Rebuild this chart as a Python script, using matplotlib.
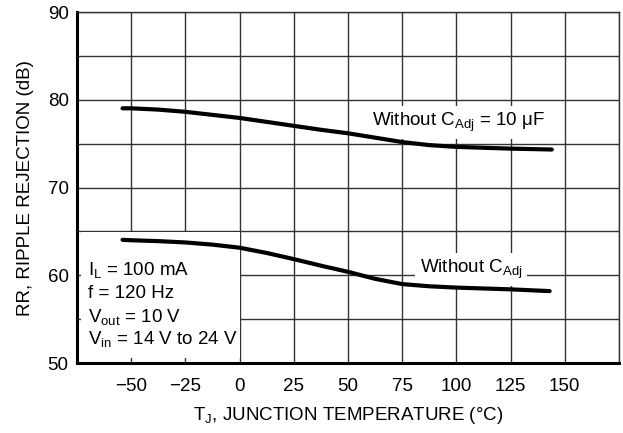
import matplotlib
matplotlib.use("Agg")
import matplotlib.pyplot as plt
from matplotlib.patches import Rectangle

plt.rcParams['font.family'] = ['Liberation Sans Narrow', 'Liberation Sans', 'DejaVu Sans']
plt.rcParams['mathtext.default'] = 'regular'

# Data
temp_top = [-54, -50, -37.5, -25, -12.5, 0, 12.5, 25, 37.5, 50, 62.5, 75, 87.5, 100, 112.5, 125, 144]
rr_with_cadj = [79.05, 79.05, 78.9, 78.65, 78.3, 77.95, 77.5, 77.05, 76.6, 76.2, 75.7, 75.2, 74.85, 74.65, 74.55, 74.45, 74.35]

temp_bot = [-54, -50, -37.5, -25, -12.5, 0, 12.5, 25, 37.5, 50, 62.5, 75, 87.5, 100, 112.5, 125, 143]
rr_without_cadj = [64.05, 64.0, 63.9, 63.75, 63.5, 63.15, 62.55, 61.85, 61.1, 60.4, 59.6, 59.0, 58.75, 58.6, 58.5, 58.4, 58.2]

x_ticks = [-75, -50, -25, 0, 25, 50, 75, 100, 125, 150, 175]
x_ticklabels = ['', '−50', '−25', '0', '25', '50', '75', '100', '125', '150', '']
y_ticks = [50, 55, 60, 65, 70, 75, 80, 85, 90]
y_ticklabels = ['50', '', '60', '', '70', '', '80', '', '90']

W, H = 623, 433
fig = plt.figure(figsize=(W / 100, H / 100), dpi=100)
ax = fig.add_axes([77 / W, (H - 363) / H, 542 / W, (363 - 12.3) / H])

ax.set_xlim(-75, 175)
ax.set_ylim(50, 90)
ax.set_xticks(x_ticks)
ax.set_xticklabels(x_ticklabels)
ax.set_yticks(y_ticks)
ax.set_yticklabels(y_ticklabels)
ax.tick_params(axis='both', direction='in', length=0, labelsize=13.5, colors='black')
ax.tick_params(axis='x', pad=11)
ax.tick_params(axis='y', pad=6)

ax.set_axisbelow(True)
ax.grid(True, color='#333333', linewidth=1.0)

for s in ['top', 'right']:
    ax.spines[s].set_linewidth(1.0)
    ax.spines[s].set_color('#333333')
for s in ['left', 'bottom']:
    ax.spines[s].set_linewidth(2.2)
    ax.spines[s].set_color('black')

# white box behind conditions text (leaves short tick stubs visible)
ax.add_patch(Rectangle((-73, 50.55), 73, 14.35, facecolor='white', edgecolor='none', zorder=0.8))

ax.plot(temp_top, rr_with_cadj, color='black', linewidth=3.0, solid_capstyle='round', zorder=3)
ax.plot(temp_bot, rr_without_cadj, color='black', linewidth=3.0, solid_capstyle='round', zorder=3)

bb = dict(boxstyle='square,pad=0.25', facecolor='white', edgecolor='none')
ax.text(61, 77.0, 'Without $C_{Adj}$ = 10 μF', fontsize=13.5, va='baseline', ha='left', bbox=bb, zorder=2)
ax.text(83, 60.25, 'Without $C_{Adj}$', fontsize=13.5, va='baseline', ha='left', bbox=bb, zorder=2)

cond = ['$I_L$ = 100 mA', 'f = 120 Hz', '$V_{out}$ = 10 V', '$V_{in}$ = 14 V to 24 V']
cond_y = [60.03, 57.4, 54.7, 52.15]
for t, yy in zip(cond, cond_y):
    ax.text(-69.8, yy, t, fontsize=13.5, va='baseline', ha='left', zorder=2)

ax.set_xlabel('$T_J$, JUNCTION TEMPERATURE (°C)', fontsize=13.5, labelpad=7)
ax.set_ylabel('RR, RIPPLE REJECTION (dB)', fontsize=13.5, labelpad=10)

fig.savefig('out.png', dpi=100)
